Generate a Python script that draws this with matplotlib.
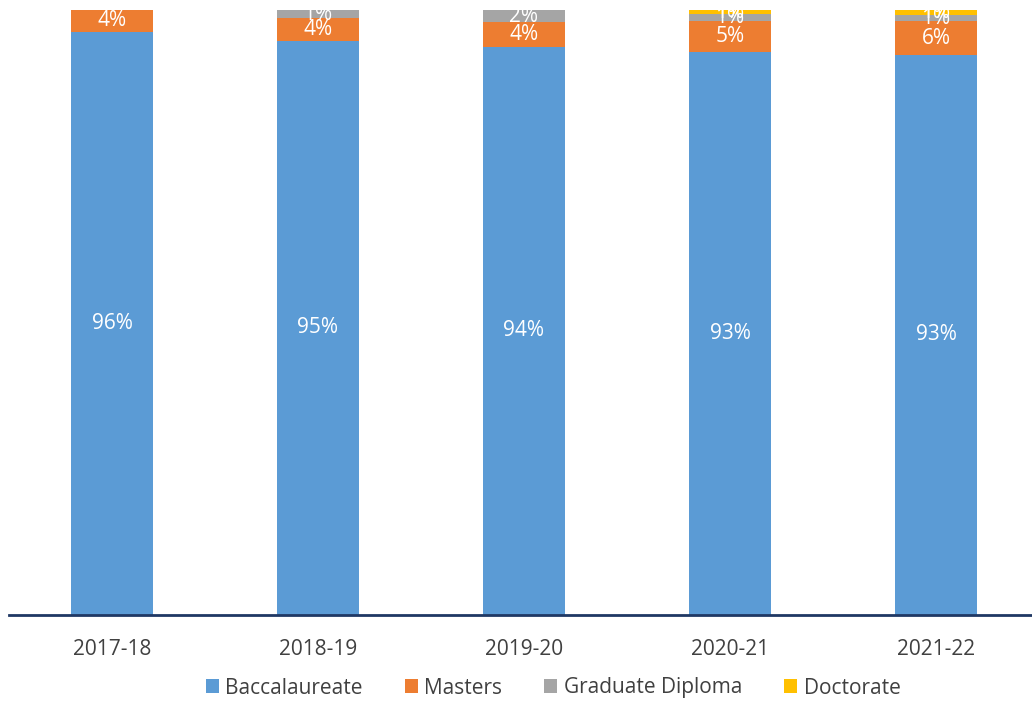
import matplotlib
matplotlib.use("Agg")
import matplotlib.pyplot as plt
import numpy as np

plt.rcParams['font.family'] = ['Open Sans', 'DejaVu Sans']

years = ['2017-18', '2018-19', '2019-20', '2020-21', '2021-22']
bacc = [96.4, 94.9, 93.9, 93.0, 92.6]
masters = [3.6, 3.7, 4.1, 5.1, 5.5]
grad_dip = [0.0, 1.4, 2.0, 1.2, 1.0]
doctorate = [0.0, 0.0, 0.0, 0.7, 0.9]

series = [('Baccalaureate', bacc, '#5B9BD5'),
          ('Masters', masters, '#ED7D31'),
          ('Graduate Diploma', grad_dip, '#A5A5A5'),
          ('Doctorate', doctorate, '#FFC000')]

fig = plt.figure(figsize=(10.32, 7.04), dpi=100)
ax = fig.add_axes([9/1032, 89/704, 1030/1032, 605/704])

x = np.arange(len(years))
bottom = np.zeros(len(years))
for name, vals, col in series:
    vals = np.array(vals)
    ax.bar(x, vals, 0.4, bottom=bottom, color=col, label=name, zorder=2)
    for i in range(len(years)):
        if vals[i] > 0:
            ax.text(x[i], bottom[i] + vals[i] / 2, '{:.0f}%'.format(vals[i]),
                    ha='center', va='center', color='white', fontsize=15,
                    zorder=3)
    bottom = bottom + vals

ax.set_xlim(-0.5, 4.5)
ax.set_ylim(0, 100)
ax.set_xticks(x)
ax.set_xticklabels(years, fontsize=15, color='#404040')
ax.tick_params(axis='x', length=0, pad=17)
ax.set_yticks([])
for s in ['top', 'right', 'left']:
    ax.spines[s].set_visible(False)
ax.spines['bottom'].set_color('#1F3864')
ax.spines['bottom'].set_linewidth(2)

fig.legend(loc='center', bbox_to_anchor=(553/1032, 16/704), ncol=4, frameon=False,
           fontsize=15, handlelength=0.65, handleheight=0.65, handletextpad=0.3,
           columnspacing=2.0, labelcolor='#404040')

fig.savefig('out.png', dpi=100)
